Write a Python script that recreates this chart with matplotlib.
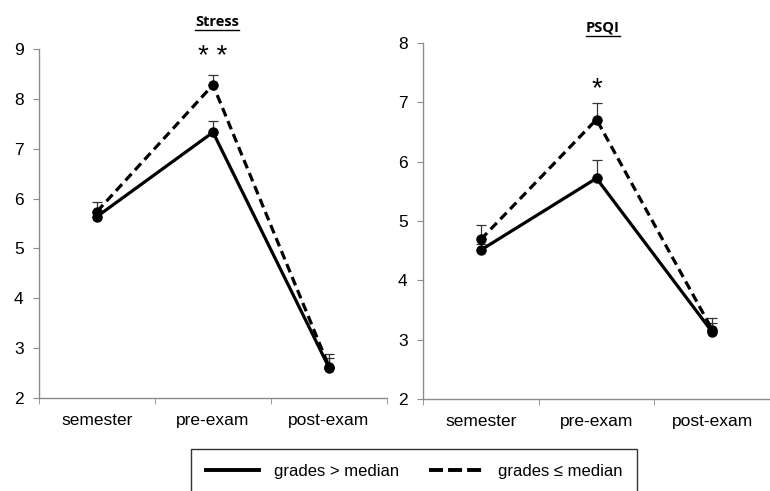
import matplotlib.pyplot as plt
from matplotlib.lines import Line2D
import numpy as np

plt.rcParams['font.family'] = ['Liberation Sans', 'DejaVu Sans']

phases = ['semester', 'pre-exam', 'post-exam']

# Stress
stress_high = [5.64, 7.33, 2.61]      # grades > median
stress_high_err = [0.1, 0.23, 0.2]
stress_low = [5.74, 8.28, 2.63]       # grades <= median
stress_low_err = [0.2, 0.19, 0.25]

# PSQI
psqi_high = [4.51, 5.72, 3.13]
psqi_high_err = [0.1, 0.31, 0.15]
psqi_low = [4.69, 6.71, 3.17]
psqi_low_err = [0.24, 0.28, 0.2]

fig = plt.figure(figsize=(7.7, 4.91), dpi=100)
W, H = 770.0, 491.0

ax1 = fig.add_axes([39 / W, 1 - 398 / H, (387 - 39) / W, (398 - 49) / H])
ax2 = fig.add_axes([423 / W, 1 - 399 / H, (770 - 423) / W, (399 - 43) / H])

gray = '#8c8c8c'
x = np.arange(len(phases))


def draw(ax, hi, hi_err, lo, lo_err, ylim, xmax):
    ax.errorbar(x, lo, yerr=[np.zeros(3), lo_err], fmt='none', ecolor='#333333',
                elinewidth=0.9, capsize=3.5, capthick=0.9, zorder=2)
    ax.errorbar(x, hi, yerr=[np.zeros(3), hi_err], fmt='none', ecolor='#333333',
                elinewidth=0.9, capsize=3.5, capthick=0.9, zorder=2)
    ax.plot(x, hi, color='black', lw=2.3, marker='o', ms=6.5, zorder=3)
    ax.plot(x, lo, color='black', lw=2.3, marker='o', ms=6.5,
            dashes=(2.8, 1.6), zorder=3)
    ax.set_xlim(-0.5, xmax)
    ax.set_ylim(*ylim)
    ax.set_yticks(range(ylim[0], ylim[1] + 1))
    ax.set_xticks(x)
    ax.set_xticklabels(phases)
    ax.set_xticks([-0.5, 0.5, 1.5, 2.5], minor=True)
    for s in ['top', 'right']:
        ax.spines[s].set_visible(False)
    for s in ['left', 'bottom']:
        ax.spines[s].set_color(gray)
        ax.spines[s].set_linewidth(1.0)
    ax.tick_params(axis='x', which='major', length=0, pad=11, labelsize=12.5)
    ax.tick_params(axis='x', which='minor', length=4, color=gray, direction='out')
    ax.tick_params(axis='y', length=4, color=gray, direction='out', pad=7,
                   labelsize=12.5)
    ax.spines['bottom'].set_clip_on(False)


draw(ax1, stress_high, stress_high_err, stress_low, stress_low_err, (2, 9), 2.5)
draw(ax2, psqi_high, psqi_high_err, psqi_low, psqi_low_err, (2, 8),
     (770 - 423) / 118.5 - 0.5)

ax1.text(1, 8.84, '* *', ha='center', va='center', fontsize=20, clip_on=False)
ax2.text(1, 7.22, '*', ha='center', va='center', fontsize=20, clip_on=False)

# underlined panel titles
titles = [('Stress', 217, 22), ('PSQI', 603, 28)]
fig.canvas.draw()
rend = fig.canvas.get_renderer()
for label, px, py in titles:
    t = fig.text(px / W, 1 - py / H, label, ha='center', va='center',
                 fontsize=10.5, fontweight='bold', family=['Open Sans', 'DejaVu Sans'])
    bb = t.get_window_extent(renderer=rend)
    yl = (bb.y0 - 0.5) / H
    fig.add_artist(Line2D([bb.x0 / W, bb.x1 / W], [yl, yl], color='black',
                          lw=1.0, transform=fig.transFigure))

handles = [Line2D([], [], color='black', lw=2.8),
           Line2D([], [], color='black', lw=2.8, dashes=(3.6, 1.3))]
leg = fig.legend(handles, ['grades > median', 'grades \u2264 median'],
                 loc='upper center', bbox_to_anchor=(414 / W, 1 - 449 / H),
                 ncol=2, fontsize=12, frameon=True, fancybox=False,
                 handlelength=3.2, handletextpad=0.9, columnspacing=1.8,
                 borderpad=0.9, borderaxespad=0)
leg.get_frame().set_edgecolor('black')
leg.get_frame().set_linewidth(1.0)

fig.savefig('out.png', dpi=100)
